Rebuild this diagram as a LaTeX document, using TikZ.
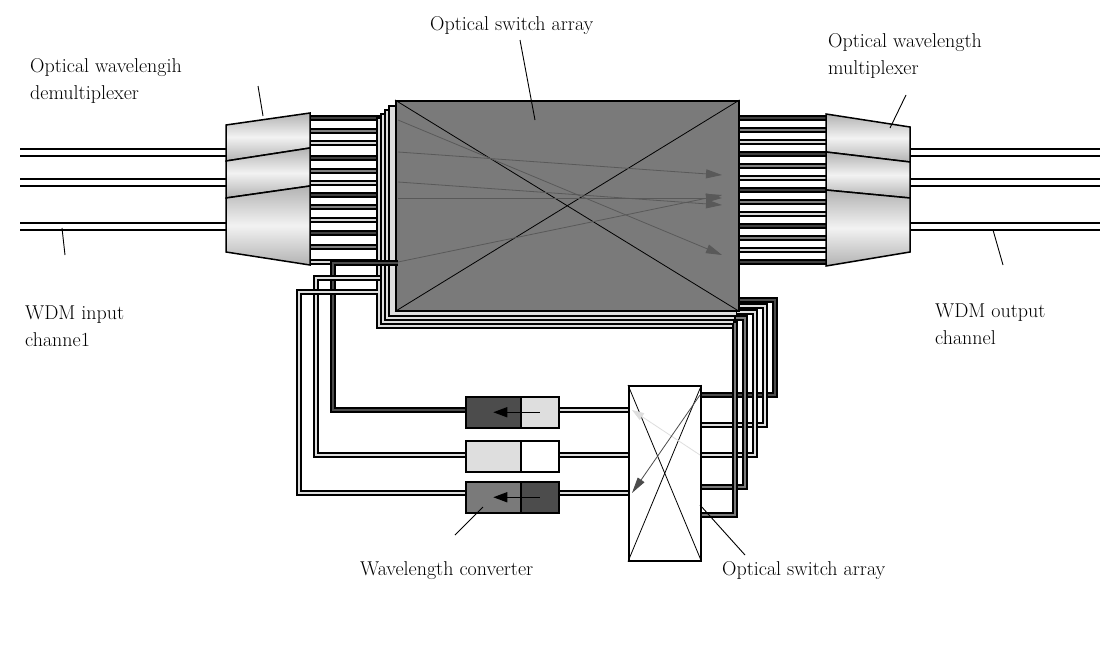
\documentclass[tikz,border=0pt]{standalone}
\usetikzlibrary{arrows.meta}
\begin{document}
\begin{tikzpicture}[x=1pt,y=-1pt,
   fiber/.style={draw=black, line width=9pt},
   fibin/.style={draw=white, line width=5pt},
   lbl/.style={font=\fontsize{20}{27}\selectfont, align=left, inner sep=0pt, anchor=north west},
   lead/.style={line width=0.9pt, black}]

   \useasboundingbox (0,0) rectangle (1120,645);

   \definecolor{darkbox}{gray}{0.3}
   \definecolor{midbox}{gray}{0.48}
   \definecolor{lightbox}{gray}{0.87}

   % input and output fibres
   \foreach \y in {152,182,226} {
     \draw[fiber] (20,\y) -- (228,\y);
     \draw[fibin] (20,\y) -- (228,\y);
     \draw[fiber] (910,\y) -- (1100,\y);
     \draw[fibin] (910,\y) -- (1100,\y);
   }

   % demultiplexer fibres to switch
   \foreach \y [count=\i] in {118,131,143,158,171,183,195,207,220,233,247,262} {
     \pgfmathsetmacro{\g}{mod(\i,3)==0 ? 0.85 : (mod(\i,3)==1 ? 0.25 : 0.5)}
     \draw[line width=6pt, black] (310,\y) -- (398,\y);
     \draw[line width=2.6pt, color={rgb,1:red,\g;green,\g;blue,\g}] (310,\y) -- (398,\y);
   }
   % multiplexer fibres from switch
   \foreach \y [count=\i] in {118,130,142,154,166,178,190,202,214,226,238,250,262} {
     \pgfmathsetmacro{\g}{mod(\i,3)==0 ? 0.85 : (mod(\i,3)==1 ? 0.25 : 0.5)}
     \draw[line width=6pt, black] (736,\y) -- (828,\y);
     \draw[line width=2.6pt, color={rgb,1:red,\g;green,\g;blue,\g}] (736,\y) -- (828,\y);
   }

   % demultiplexer cones
   \foreach \a/\b/\c/\d in {125/161/113/148, 161/198/148/186, 198/252/186/265} {
     \shade[top color=gray!60, bottom color=gray!60, middle color=gray!10, draw=black, line width=1.5pt]
       (226,\a) -- (310,\c) -- (310,\d) -- (226,\b) -- cycle;
   }
   % multiplexer cones
   \foreach \a/\b/\c/\d in {114/152/127/162, 152/190/162/198, 190/266/198/252} {
     \shade[top color=gray!60, bottom color=gray!60, middle color=gray!10, draw=black, line width=1.5pt]
       (826,\a) -- (910,\c) -- (910,\d) -- (826,\b) -- cycle;
   }

   % loop fibres from small switch back to main switch
   \foreach \x/\y/\t/\c in {775/395/300/darkbox, 765/425/306/lightbox, 755/455/312/lightbox, 745/487/318/midbox, 735/515/324/midbox} {
     \draw[line width=6pt, black] (700,\y) -- (\x,\y) -- (\x,\t) -- (730,\t);
     \draw[line width=2.6pt, \c] (700,\y) -- (\x,\y) -- (\x,\t) -- (730,\t);
   }

   % shadow frames of the switch array
   \foreach \o in {18,14,10,6} {
     \draw[line width=1.2pt, fill=lightbox] (395-\o*1.0,100+\o) rectangle (738-\o*0.3,310+\o);
   }
   % main switch array
   \node[draw=black, line width=1.5pt, fill=midbox, minimum width=343, minimum height=210,
     inner sep=0, anchor=north west] (sw) at (395,100) {};
   \draw[line width=0.8pt] (sw.north west) -- (sw.south east);
   \draw[line width=0.8pt] (sw.south west) -- (sw.north east);
   \foreach \ya/\yb in {152/175, 182/205, 198/198, 120/255, 262/195} {
     \draw[line width=0.8pt, black!65, -{Triangle[length=16pt, width=9pt, fill=black!65]}] (398,\ya) -- (722,\yb);
   }

   % converter fibres to the left
   \draw[line width=6pt] (465,410) -- (333,410) -- (333,263) -- (398,263);
   \draw[line width=2.6pt, darkbox] (465,410) -- (333,410) -- (333,263) -- (398,263);
   \draw[line width=6pt] (465,455) -- (316,455) -- (316,278) -- (380,278);
   \draw[line width=2.6pt, lightbox] (465,455) -- (316,455) -- (316,278) -- (380,278);
   \draw[line width=6pt] (465,493) -- (299,493) -- (299,292) -- (378,292);
   \draw[line width=2.6pt, lightbox] (465,493) -- (299,493) -- (299,292) -- (378,292);

   % converters to small switch
   \foreach \y in {410,455,493} {
     \draw[line width=6pt] (558,\y) -- (630,\y);
     \draw[line width=2.6pt, lightbox] (558,\y) -- (630,\y);
   }

   % wavelength converters
   \foreach \n/\y/\cl/\cr in {ca/396/darkbox/lightbox, cb/440/lightbox/white, cc/481/midbox/darkbox} {
     \node[draw, line width=1.5pt, fill=\cl, minimum width=55, minimum height=31, inner sep=0, anchor=north west] (\n l) at (465,\y) {};
     \node[draw, line width=1.5pt, fill=\cr, minimum width=38, minimum height=31, inner sep=0, anchor=north west] (\n r) at (520,\y) {};
   }
   \draw[line width=1.5pt, -{Triangle[length=14pt, width=10pt]}] (car.center) -- (cal.center);
   \draw[line width=1.5pt, -{Triangle[length=14pt, width=10pt]}] (ccr.center) -- (ccl.center);

   % small optical switch array
   \node[draw, line width=1.5pt, fill=white, minimum width=72, minimum height=175, inner sep=0, anchor=north west] (ss) at (628,385) {};
   \draw[line width=0.8pt] (ss.north west) -- (ss.south east);
   \draw[line width=0.8pt] (ss.south west) -- (ss.north east);
   \draw[line width=0.8pt, lightbox, -{Triangle[length=12pt, width=8pt, fill=lightbox]}] (700,455) -- (632,410);
   \draw[line width=0.8pt, black!70, -{Triangle[length=16pt, width=8pt, fill=black!70]}] (700,395) -- (632,493);

   % labels
   \node[lbl] (ldemux) at (30,58) {Optical wavelengih\\demultiplexer};
   \node[lbl] (lsw) at (430,16) {Optical switch array};
   \node[lbl] (lmux) at (828,33) {Optical wavelength\\multiplexer};
   \node[lbl] (lin) at (25,306) {WDM input\\channe1};
   \node[lbl] (lout) at (935,304) {WDM output\\channel};
   \node[lbl] (lconv) at (360,561) {Wavelength converter};
   \node[lbl] (lss) at (722,561) {Optical switch array};

   \draw[lead] (258,86) -- (263,116);
   \draw[lead] (520,40) -- (535,120);
   \draw[lead] (906,95) -- (890,128);
   \draw[lead] (62,228) -- (65,255);
   \draw[lead] (993,230) -- (1003,265);
   \draw[lead] (483,507) -- (455,535);
   \draw[lead] (700,505) -- (745,555);
\end{tikzpicture}
\end{document}
